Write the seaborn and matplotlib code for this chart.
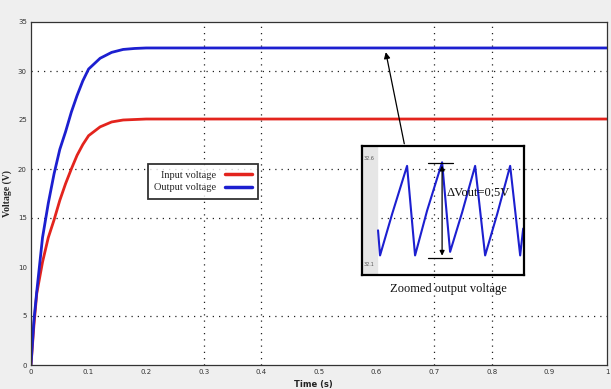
import matplotlib
matplotlib.use("Agg")
import matplotlib.pyplot as plt
import seaborn as sns
import pandas as pd

# ---- data ----
time_s = [0, 0.005, 0.01, 0.02, 0.03, 0.04, 0.05, 0.06, 0.07, 0.08, 0.09, 0.1,
          0.12, 0.14, 0.16, 0.18, 0.2, 1.0]
output_v = [0, 4.5, 7.5, 13.0, 16.5, 19.5, 22.0, 23.8, 25.8, 27.5, 29.0, 30.2,
            31.3, 31.9, 32.2, 32.3, 32.35, 32.35]
input_v = [0, 4.0, 7.3, 10.5, 13.0, 14.8, 16.8, 18.5, 20.0, 21.4, 22.5, 23.4,
           24.3, 24.8, 25.0, 25.05, 25.1, 25.1]
series_names = ["Input voltage", "Output voltage"]
x_ticks = [0, 0.1, 0.2, 0.3, 0.4, 0.5, 0.6, 0.7, 0.8, 0.9, 1.0]
x_tick_labels = ["0", "0.1", "0.2", "0.3", "0.4", "0.5", "0.6", "0.7", "0.8", "0.9", "1"]
y_ticks = [0, 5, 10, 15, 20, 25, 30, 35]
y_tick_labels = ["0", "5", "10", "15", "20", "25", "30", "35"]
x_grid = [0.3, 0.4, 0.7, 0.8]
y_grid = [5, 15, 20, 30]

# zoomed ripple (inset)
zoom_t = [16, 18, 30, 45, 53, 65, 80, 88, 100, 113, 123, 135, 148, 158, 161]
zoom_v = [32.24, 32.10, 32.33, 32.60, 32.10, 32.35, 32.62, 32.12, 32.34, 32.60,
          32.10, 32.33, 32.60, 32.10, 32.25]
ripple_low, ripple_high = 32.083, 32.617
ripple_label = "ΔVout=0.5V"

df = pd.DataFrame({
    "Time": time_s * 2,
    "Voltage": input_v + output_v,
    "Signal": [series_names[0]] * len(time_s) + [series_names[1]] * len(time_s),
})

sns.set_theme(style="white")
plt.rcParams["font.family"] = ["DejaVu Sans"]
serif = ["Liberation Serif", "DejaVu Serif"]

fig = plt.figure(figsize=(6.11, 3.89), dpi=100, facecolor="#efefef")
ax = fig.add_axes([31 / 611, 24 / 389, 576 / 611, 343 / 389])
ax.set_facecolor("white")

palette = {series_names[0]: "#e3241d", series_names[1]: "#1c1fd0"}
sns.lineplot(data=df, x="Time", y="Voltage", hue="Signal", palette=palette,
             linewidth=2.0, ax=ax, legend=True)

ax.set_xlim(0, 1)
ax.set_ylim(0, 35)
ax.set_xticks(x_ticks)
ax.set_xticklabels(x_tick_labels)
ax.set_yticks(y_ticks)
ax.set_yticklabels(y_tick_labels)
ax.tick_params(axis="both", which="major", length=0, labelsize=5, colors="#333333", pad=3)
ax.set_xticks(x_grid, minor=True)
ax.set_yticks(y_grid, minor=True)
ax.tick_params(axis="both", which="minor", direction="in", length=5, width=0.9, color="black")

for gx in x_grid:
    ax.axvline(gx, color="#222222", linestyle=(0, (1, 4)), linewidth=0.9, zorder=0.5)
for gy in y_grid:
    ax.axhline(gy, color="#222222", linestyle=(0, (1, 4)), linewidth=0.9, zorder=0.5)

for s in ax.spines.values():
    s.set_color("#333333")
    s.set_linewidth(0.9)

ax.set_xlabel("Time (s)", fontsize=6, fontweight="bold", color="#222222")
ax.xaxis.set_label_coords(0.49, -0.045)
ax.set_ylabel("Voltage (V)", fontsize=7, fontweight="bold", family=serif, color="#222222")
ax.yaxis.set_label_coords(-0.033, 0.5)

leg = ax.legend(loc="upper left", bbox_to_anchor=(0.203, 0.585), markerfirst=False,
                prop={"family": serif, "size": 7.5}, frameon=True, fancybox=False,
                handlelength=2.6, borderpad=0.6, labelspacing=0.3, borderaxespad=0)
leg.get_frame().set_edgecolor("black")
leg.get_frame().set_linewidth(1.3)
for line in leg.get_lines():
    line.set_linewidth(2.5)

# inset
ins = ax.inset_axes([0.5747, 0.262, 0.2815, 0.376])
ins.set_facecolor("none")
ins.axvspan(0, 15, color="#e6e6e6", zorder=0)
ins.plot(zoom_t, zoom_v, color="#1c1fd0", linewidth=1.5)
ins.set_xlim(0, 162)
ins.set_ylim(31.99, 32.71)
ins.set_xticks([])
ins.set_yticks([])
for s in ins.spines.values():
    s.set_color("black")
    s.set_linewidth(1.6)
ins.text(2, 32.64, "32.6", fontsize=3.5, color="#555555", va="center")
ins.text(2, 32.05, "32.1", fontsize=3.5, color="#555555", va="center")
ins.annotate("", xy=(80, ripple_high), xytext=(80, ripple_low),
             arrowprops=dict(arrowstyle="<|-|>", color="black", lw=0.9, mutation_scale=7))
ins.plot([66, 91], [ripple_high, ripple_high], color="black", lw=0.9)
ins.plot([66, 90], [ripple_low, ripple_low], color="black", lw=0.9)
ins.text(84, 32.45, ripple_label, fontsize=9, family=serif, color="#111111", va="center")
ins.text(0.53, -0.06, "Zoomed output voltage", transform=ins.transAxes, ha="center",
         va="top", fontsize=9, family=serif, color="#111111")

ax.annotate("", xy=(0.615, 32.2), xytext=(0.649, 22.3),
            arrowprops=dict(arrowstyle="-|>", color="black", lw=0.9, mutation_scale=9))

fig.savefig("out.png", dpi=100, facecolor=fig.get_facecolor())
